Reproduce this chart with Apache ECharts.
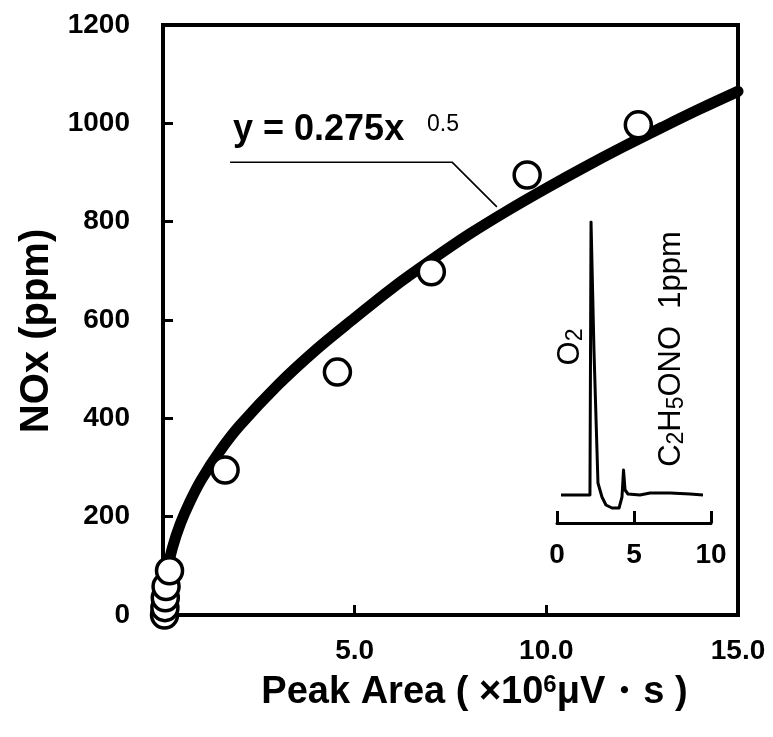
<!DOCTYPE html>
<html><head><meta charset="utf-8">
<script src="https://cdn.jsdelivr.net/npm/echarts@6/dist/echarts.min.js"></script>
<style>html,body{margin:0;padding:0;background:#fff}#c{width:773px;height:737px}</style>
</head><body><div id="c"></div>
<script>
// measured calibration points (Peak Area ×10^6 µV·s, NOx ppm)
const pointX = [0.04, 0.05, 0.06, 0.08, 0.17, 1.62, 4.55, 7.0, 9.5, 12.4];
const pointY = [0, 15, 35, 58, 90, 295, 494, 698, 895, 997];
// fitted curve y = 0.275 x^0.5
const fitX = [0, 0.02, 0.06, 0.12, 0.25, 0.45, 0.7, 1, 1.5, 2, 3, 4, 5, 6, 7, 8, 9, 10, 11, 12, 13, 14, 15];
const fitY = [0, 40, 68, 95, 138, 185, 230, 275, 335, 385, 468, 540, 604, 666, 722, 775, 823, 868, 911, 952, 991, 1029, 1065];
// leader line from equation to curve
const leaderX = [1.75, 7.54, 8.71];
const leaderY = [921, 921, 830];
// inset chromatogram (time, min ; signal, arbitrary)
const chromTime = [0.26, 2.14, 2.21, 2.40, 2.66, 2.92, 3.18, 3.57, 4.03, 4.22, 4.32, 4.42, 4.61, 5.39, 6.04, 7.34, 8.64, 9.48];
const chromSignal = [0, 0, 273, 145, 12, -2, -10, -13, -13, -2, 25, 5, 1, 0, 2, 2, 1, 0];
// tick labels
const yTicks = [0, 200, 400, 600, 800, 1000, 1200];
const xTickValues = [0, 5, 10, 15];
const xTickLabels = ['', '5.0', '10.0', '15.0'];
const insetTickLabels = ['0', '5', '10'];

const FONT = "'Liberation Sans', Arial, Helvetica, sans-serif";
const chart = echarts.init(document.getElementById('c'), null, {renderer: 'canvas'});

const option = {
  backgroundColor: '#fff',
  animation: false,
  grid: [
    {left: 163, right: 35, top: 25, bottom: 122, show: true, borderColor: '#000', borderWidth: 4, backgroundColor: 'transparent'},
    {left: 557, width: 154, top: 222, height: 301, show: false}
  ],
  xAxis: [
    {
      gridIndex: 0, type: 'value', min: 0, max: 15, interval: 5,
      axisLine: {show: true, lineStyle: {color: '#000', width: 4}},
      axisTick: {show: true, inside: true, length: 10, lineStyle: {color: '#000', width: 3}},
      splitLine: {show: false},
      axisLabel: {
        margin: 22, color: '#000', fontFamily: FONT, fontWeight: 'bold', fontSize: 28,
        showMaxLabel: true, showMinLabel: true,
        formatter: v => { const i = xTickValues.indexOf(v); return i >= 0 ? xTickLabels[i] : ''; }
      },
      name: 'Peak Area ( ×10{sup|6}μV・s )',
      nameLocation: 'middle', nameGap: 58,
      nameTextStyle: {
        color: '#000', fontFamily: FONT, fontWeight: 'bold', fontSize: 38, padding: [0, 0, 0, 48],
        rich: {sup: {fontFamily: FONT, fontWeight: 'bold', fontSize: 24, verticalAlign: 'top', padding: [0, 0, 16, 0]}}
      }
    },
    {
      gridIndex: 1, type: 'value', min: 0, max: 10, interval: 5,
      axisLine: {show: true, onZero: false, lineStyle: {color: '#000', width: 3}},
      axisTick: {show: true, inside: true, length: 12, lineStyle: {color: '#000', width: 3}},
      splitLine: {show: false},
      axisLabel: {
        margin: 18, color: '#000', fontFamily: FONT, fontWeight: 'bold', fontSize: 28,
        formatter: v => insetTickLabels[[0, 5, 10].indexOf(v)] || ''
      }
    }
  ],
  yAxis: [
    {
      gridIndex: 0, type: 'value', min: 0, max: 1200, interval: 200,
      axisLine: {show: true, lineStyle: {color: '#000', width: 4}},
      axisTick: {show: true, inside: true, length: 10, lineStyle: {color: '#000', width: 3}},
      splitLine: {show: false},
      axisLabel: {margin: 33, color: '#000', fontFamily: FONT, fontWeight: 'bold', fontSize: 28,
        formatter: v => yTicks.indexOf(v) >= 0 ? String(v) : ''},
      name: 'NOx (ppm)', nameLocation: 'middle', nameGap: 102, nameRotate: 90,
      nameTextStyle: {color: '#000', fontFamily: FONT, fontWeight: 'bold', fontSize: 40, padding: [0, 22, 0, 0]}
    },
    {
      gridIndex: 1, type: 'value', min: -28, max: 273, show: false
    }
  ],
  series: [
    {
      type: 'line', xAxisIndex: 0, yAxisIndex: 0, data: fitX.map((x, i) => [x, fitY[i]]),
      smooth: 0.35, showSymbol: false, symbol: 'none',
      lineStyle: {color: '#000', width: 11, cap: 'round', join: 'round'}, z: 3, clip: true
    },
    {
      type: 'line', xAxisIndex: 0, yAxisIndex: 0, data: leaderX.map((x, i) => [x, leaderY[i]]),
      showSymbol: false, symbol: 'none', lineStyle: {color: '#000', width: 1.6}, z: 3
    },
    {
      type: 'scatter', xAxisIndex: 0, yAxisIndex: 0, data: pointX.map((x, i) => [x, pointY[i]]),
      symbol: 'circle', symbolSize: 26, clip: false,
      itemStyle: {color: '#fff', borderColor: '#000', borderWidth: 3.5, opacity: 1}, z: 5
    },
    {
      type: 'line', xAxisIndex: 1, yAxisIndex: 1, data: chromTime.map((x, i) => [x, chromSignal[i]]),
      showSymbol: false, symbol: 'none', lineStyle: {color: '#000', width: 3, join: 'round'}, z: 3
    }
  ],
  graphic: [
    {
      type: 'text', left: 233, top: 112, z: 10,
      style: {text: 'y = 0.275x', font: "bold 36px " + FONT, fill: '#000'}
    },
    {
      type: 'text', left: 427, top: 113, z: 10,
      style: {text: '0.5', font: "23px " + FONT, fill: '#000'}
    },
    {
      type: 'text', x: 570, y: 347, rotation: Math.PI / 2, z: 10,
      style: {
        text: 'O{s|2}', font: "31px " + FONT, fill: '#000', align: 'center', verticalAlign: 'middle',
        rich: {s: {fontSize: 23, fontFamily: FONT, padding: [12, 0, 0, 0]}}
      }
    },
    {
      type: 'text', x: 671, y: 349, rotation: Math.PI / 2, z: 10,
      style: {
        text: 'C{s|2}H{s|5}ONO  1ppm', font: "31px " + FONT, fill: '#000', align: 'center', verticalAlign: 'middle',
        rich: {s: {fontSize: 23, fontFamily: FONT, padding: [12, 0, 0, 0]}}
      }
    }
  ]
};
chart.setOption(option);
</script>
</body></html>
